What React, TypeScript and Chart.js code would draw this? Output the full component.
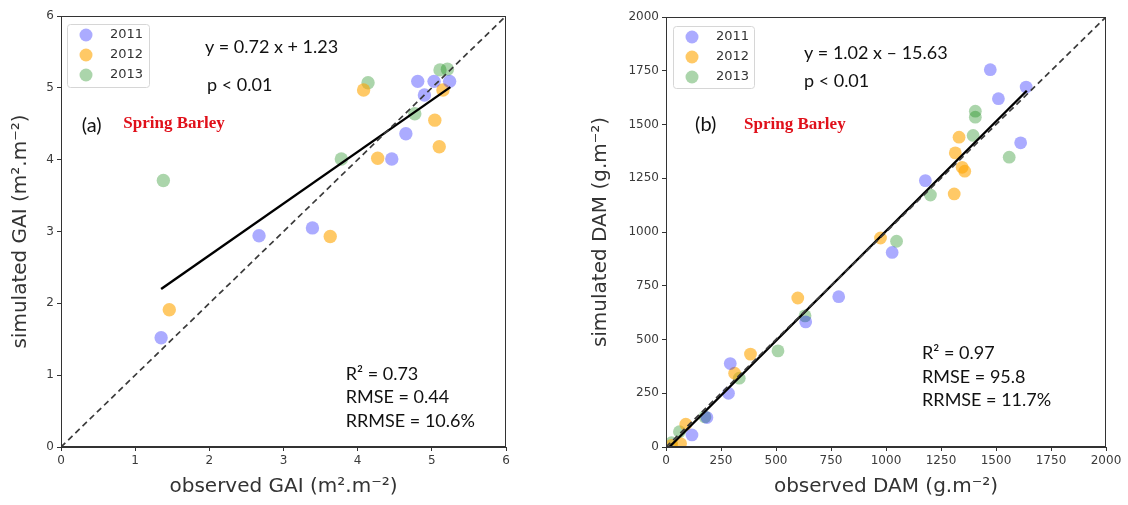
import React, { useEffect, useRef } from "react";
import { Chart, registerables } from "chart.js";
Chart.register(...registerables);

// ---------- data ----------
const years = ["2011", "2012", "2013"];

// Panel (a): GAI observed vs simulated
const gaiObs2011 = [1.35, 2.67, 3.39, 4.46, 4.65, 4.81, 4.9, 5.03, 5.24];
const gaiSim2011 = [1.52, 2.94, 3.05, 4.01, 4.36, 5.09, 4.9, 5.09, 5.09];
const gaiObs2012 = [1.46, 3.63, 4.08, 4.27, 5.04, 5.1, 5.15];
const gaiSim2012 = [1.91, 2.93, 4.97, 4.02, 4.55, 4.18, 4.97];
const gaiObs2013 = [1.38, 3.78, 4.14, 4.77, 5.11, 5.21];
const gaiSim2013 = [3.71, 4.01, 5.07, 4.64, 5.25, 5.26];
const gaiFitX = [1.35, 5.25];
const gaiFitY = [2.2, 5.01];
const gaiTicks = [0, 1, 2, 3, 4, 5, 6];

// Panel (b): DAM observed vs simulated
const damObs2011 = [1474, 1637, 1511, 1612, 1179, 1028, 785, 635, 292, 284, 186, 118];
const damSim2011 = [1755, 1674, 1620, 1415, 1239, 905, 699, 582, 388, 250, 137, 56];
const damObs2012 = [1332, 1315, 1346, 1358, 1310, 975, 599, 384, 312, 90, 66, 25];
const damSim2012 = [1441, 1368, 1301, 1283, 1177, 972, 693, 432, 343, 106, 16, 8];
const damObs2013 = [1406, 1406, 1396, 1560, 1202, 1048, 632, 509, 333, 177, 61, 25];
const damSim2013 = [1562, 1534, 1449, 1348, 1172, 957, 610, 447, 320, 140, 71, 20];
const damFitX = [15, 1640];
const damFitY = [0, 1657];
const damTicks = [0, 250, 500, 750, 1000, 1250, 1500, 1750, 2000];

// ---------- styling ----------
const COLORS = ["rgba(0,0,255,0.33)", "rgba(255,165,0,0.6)", "rgba(0,128,0,0.33)"];
const TICK_FONT = { family: "DejaVu Sans", size: 12 };
const TITLE_FONT = { family: "DejaVu Sans", size: 20 };
const ANN_FONT = "18px Lato";
const RED_FONT = "bold 17px 'Liberation Serif'";

const zip = (xs: number[], ys: number[]) => xs.map((x, i) => ({ x, y: ys[i] }));

type Ann = { x: number; y: number; text: string; font?: string; color?: string };

type PanelProps = {
  width: number;
  left: number;
  obs: number[][];
  sim: number[][];
  fitX: number[];
  fitY: number[];
  ticks: number[];
  xTitle: string;
  yTitle: string;
  anns: Ann[];
  pad: { left: number; right: number; top: number };
  yWidth: number;
  radius: number;
  legendOff: { x: number; y: number; w: number; h: number };
};

function Panel(p: PanelProps) {
  const ref = useRef<HTMLCanvasElement | null>(null);
  useEffect(() => {
    if (!ref.current) return;
    const lo = p.ticks[0];
    const hi = p.ticks[p.ticks.length - 1];
    const step = p.ticks[1] - p.ticks[0];
    const overlay = {
      id: "overlay",
      afterDraw(chart: any) {
        const ctx = chart.ctx;
        const a = chart.chartArea;
        const xs = chart.scales.x;
        const ys = chart.scales.y;
        ctx.save();
        ctx.strokeStyle = "#333";
        ctx.lineWidth = 1;
        ctx.strokeRect(a.left + 0.5, a.top + 0.5, a.right - a.left - 1, a.bottom - a.top - 1);
        // annotations
        ctx.textBaseline = "middle";
        ctx.textAlign = "left";
        for (const t of p.anns) {
          ctx.font = t.font || ANN_FONT;
          ctx.fillStyle = t.color || "#111";
          ctx.fillText(t.text, xs.getPixelForValue(t.x), ys.getPixelForValue(t.y));
        }
        // legend
        const lx = a.left + p.legendOff.x;
        const ly = a.top + p.legendOff.y;
        ctx.fillStyle = "rgba(255,255,255,0.85)";
        ctx.strokeStyle = "#d6d6d6";
        ctx.lineWidth = 1;
        ctx.beginPath();
        (ctx as any).roundRect(lx + 0.5, ly + 0.5, p.legendOff.w, p.legendOff.h, 3);
        ctx.fill();
        ctx.stroke();
        const sc = chart.data.datasets.filter((d: any) => d.label);
        sc.forEach((d: any, i: number) => {
          const cy = ly + 11 + i * 20;
          ctx.fillStyle = d.backgroundColor;
          ctx.beginPath();
          ctx.arc(lx + 19, cy, 6.5, 0, Math.PI * 2);
          ctx.fill();
          ctx.fillStyle = "#333";
          ctx.font = "13px 'DejaVu Sans'";
          ctx.fillText(d.label, lx + 43, cy);
        });
        ctx.restore();
      },
    };
    const axis = (title: string, isX: boolean) => ({
      type: "linear",
      min: lo,
      max: hi,
      afterBuildTicks: (s: any) => {
        s.ticks = p.ticks.map((v) => ({ value: v }));
      },
      ticks: {
        stepSize: step,
        color: "#3a3a3a",
        font: TICK_FONT,
        padding: 3,
        autoSkip: false,
        callback: (v: any) => String(v),
      },
      grid: { display: true, drawOnChartArea: false, drawTicks: true, tickLength: 4, color: "#333" },
      border: { display: true, color: "#333" },
      title: {
        display: true,
        text: title,
        color: "#333",
        font: TITLE_FONT,
        padding: isX ? { top: 4, bottom: 6 } : { top: 2, bottom: 4 },
      },
      afterFit: (s: any) => {
        if (isX) s.height = 58;
        else s.width = p.yWidth;
      },
    });
    const chart = new Chart(ref.current, {
      type: "scatter",
      data: {
        datasets: [
          {
            data: [
              { x: lo, y: lo },
              { x: hi, y: hi },
            ],
            showLine: true,
            borderColor: "#3a3a3a",
            borderWidth: 1.7,
            borderDash: [6, 4],
            pointRadius: 0,
          },
          {
            data: zip(p.fitX, p.fitY),
            showLine: true,
            borderColor: "#000",
            borderWidth: 2.4,
            pointRadius: 0,
          },
          ...years.map((yr, i) => ({
            label: yr,
            data: zip(p.obs[i], p.sim[i]),
            backgroundColor: COLORS[i],
            borderWidth: 0,
            pointRadius: p.radius,
          })),
        ],
      } as any,
      options: {
        animation: false,
        responsive: false,
        layout: { padding: { left: p.pad.left, right: p.pad.right, top: p.pad.top, bottom: 0 } },
        plugins: { legend: { display: false }, tooltip: { enabled: false } },
        scales: { x: axis(p.xTitle, true), y: axis(p.yTitle, false) } as any,
      },
      plugins: [overlay],
    });
    return () => chart.destroy();
  }, []);
  return (
    <canvas
      ref={ref}
      width={p.width}
      height={505}
      style={{ position: "absolute", left: p.left, top: 0, width: p.width, height: 505 }}
    />
  );
}

export default function App() {
  return (
    <div style={{ position: "fixed", left: 0, top: 0, width: 1128, height: 505, background: "#fff" }}>
      <Panel
        width={560}
        left={0}
        obs={[gaiObs2011, gaiObs2012, gaiObs2013]}
        sim={[gaiSim2011, gaiSim2012, gaiSim2013]}
        fitX={gaiFitX}
        fitY={gaiFitY}
        ticks={gaiTicks}
        xTitle="observed GAI (m².m⁻²)"
        yTitle="simulated GAI (m².m⁻²)"
        pad={{ left: 7, right: 54, top: 16 }}
        yWidth={54}
        radius={6.7}
        legendOff={{ x: 6, y: 8, w: 82, h: 63 }}
        anns={[
          { x: 1.94, y: 5.57, text: "y = 0.72 x + 1.23" },
          { x: 1.97, y: 5.04, text: "p < 0.01" },
          { x: 0.28, y: 4.48, text: "(a)", font: "20px Lato" },
          { x: 0.84, y: 4.5, text: "Spring Barley", font: RED_FONT, color: "#e0101a" },
          { x: 3.84, y: 1.02, text: "R² = 0.73" },
          { x: 3.84, y: 0.69, text: "RMSE = 0.44" },
          { x: 3.84, y: 0.36, text: "RRMSE = 10.6%" },
        ]}
      />
      <Panel
        width={568}
        left={560}
        obs={[damObs2011, damObs2012, damObs2013]}
        sim={[damSim2011, damSim2012, damSim2013]}
        fitX={damFitX}
        fitY={damFitY}
        ticks={damTicks}
        xTitle="observed DAM (g.m⁻²)"
        yTitle="simulated DAM (g.m⁻²)"
        pad={{ left: 27, right: 22, top: 17 }}
        yWidth={79}
        radius={6.4}
        legendOff={{ x: 7, y: 9, w: 81, h: 62 }}
        anns={[
          { x: 627, y: 1833, text: "y = 1.02 x – 15.63" },
          { x: 627, y: 1702, text: "p < 0.01" },
          { x: 132, y: 1498, text: "(b)", font: "20px Lato" },
          { x: 355, y: 1498, text: "Spring Barley", font: RED_FONT, color: "#e0101a" },
          { x: 1164, y: 437, text: "R² = 0.97" },
          { x: 1164, y: 326, text: "RMSE = 95.8" },
          { x: 1164, y: 219, text: "RRMSE = 11.7%" },
        ]}
      />
    </div>
  );
}
